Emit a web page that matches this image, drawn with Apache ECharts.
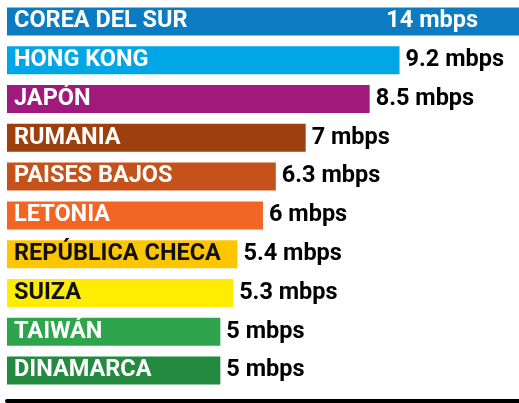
<!DOCTYPE html>
<html><head><meta charset="utf-8">
<script src="https://cdn.jsdelivr.net/npm/echarts@6/dist/echarts.min.js"></script>
<style>html,body{margin:0;padding:0;background:#fff}#c{width:519px;height:403px}</style>
</head><body><div id="c"></div>
<script>
const categories = ['COREA DEL SUR','HONG KONG','JAPÓN','RUMANIA','PAISES BAJOS','LETONIA','REPÚBLICA CHECA','SUIZA','TAIWÁN','DINAMARCA'];
const values = [14, 9.2, 8.5, 7, 6.3, 6, 5.4, 5.3, 5, 5];
const unit = 'mbps';
const barColors = ['#0B7CC1','#00A6E6','#A0197D','#9E3F0E','#C5521B','#F26524','#FEC600','#FFED00','#2EA54D','#238A3F'];
const nameColors = ['#fff','#fff','#fff','#fff','#fff','#fff','#111','#111','#fff','#fff'];
const axisMax = 12;

const font = 'Roboto';
const chart = echarts.init(document.getElementById('c'));
chart.setOption({
  animation: false,
  grid: {left: 7, right: 0, top: 2, bottom: 13},
  xAxis: {
    type: 'value', min: 0, max: axisMax, offset: 11,
    splitLine: {show: false}, axisTick: {show: false}, axisLabel: {show: false},
    axisLine: {show: true, lineStyle: {color: '#000', width: 4}}
  },
  yAxis: {
    type: 'category', data: categories, inverse: true,
    axisLine: {show: false}, axisTick: {show: false},
    axisLabel: {
      inside: true, margin: 7, fontFamily: font, fontWeight: 'bold', fontSize: 23.5,
      color: (v, i) => nameColors[categories.indexOf(v)]
    },
    z: 10
  },
  series: [{
    type: 'bar', barWidth: 28, clip: true,
    data: values.map((v, i) => ({
      value: v,
      itemStyle: {color: barColors[i]},
      label: v > axisMax ? {position: 'insideRight', distance: 41, color: '#fff'} : undefined
    })),
    label: {
      show: true, position: 'right', distance: 6,
      fontFamily: font, fontWeight: 'bold', fontSize: 23.5, color: '#000',
      formatter: p => p.value + ' ' + unit
    }
  }]
});
</script></body></html>
